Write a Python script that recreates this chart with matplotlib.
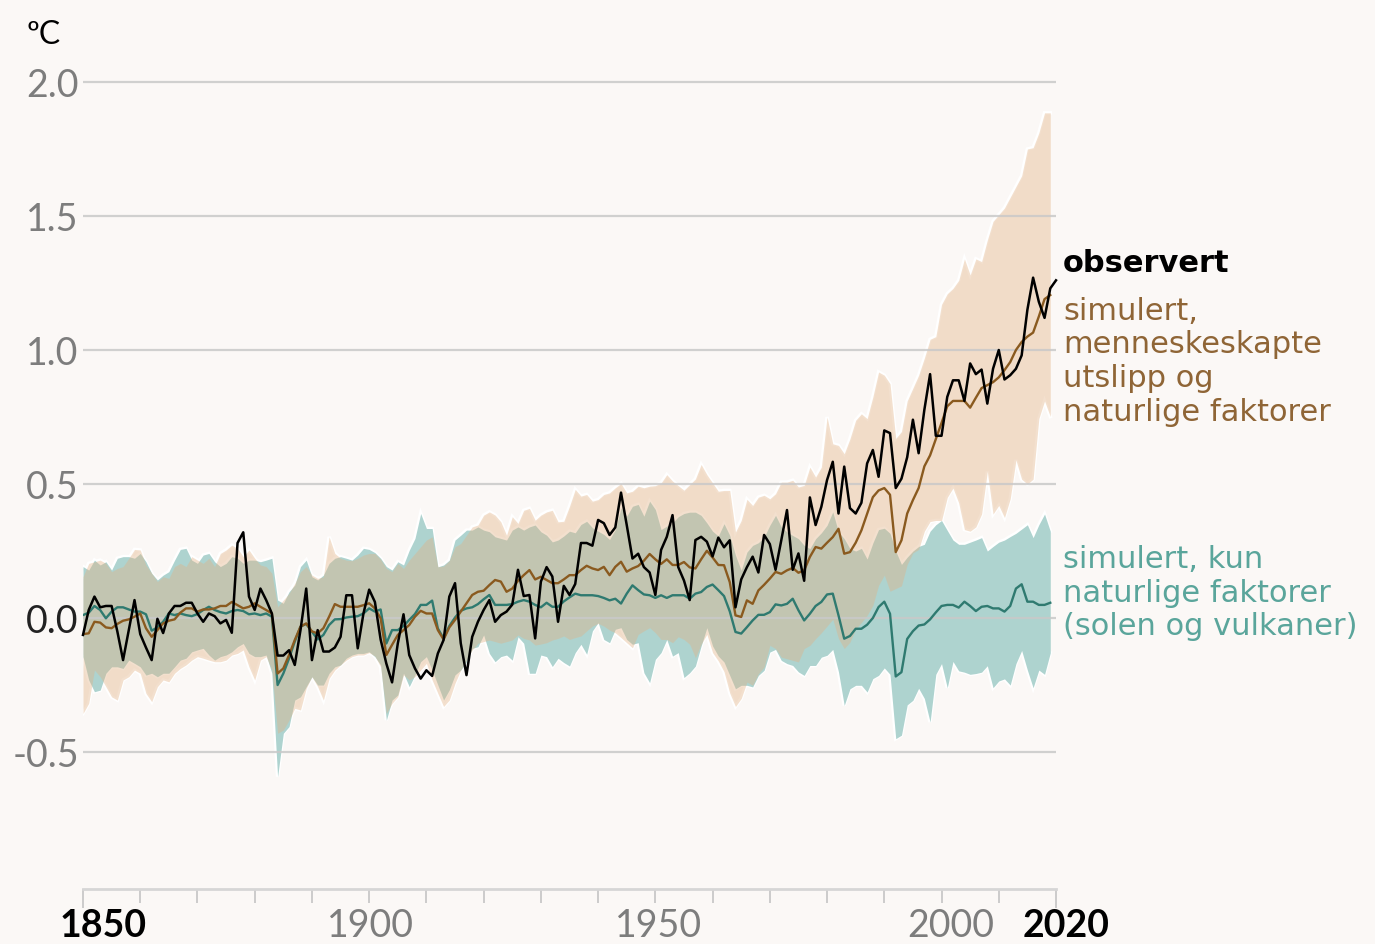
import numpy as np
import matplotlib
matplotlib.use("Agg")
import matplotlib.pyplot as plt

plt.rcParams['font.family'] = ['Lato', 'DejaVu Sans']

# observert, 1850-2020
obs = [-0.063, 0.03, 0.08, 0.04, 0.045, 0.045, -0.05, -0.157, -0.045, 0.067,
       -0.06, -0.11, -0.157, -0.003, -0.056, 0.017, 0.045, 0.045, 0.057, 0.057,
       0.017, -0.014, 0.017, 0.007, -0.02, -0.007, -0.055, 0.28, 0.32, 0.08,
       0.03, 0.11, 0.067, 0.017, -0.14, -0.14, -0.12, -0.175, -0.045, 0.11,
       -0.157, -0.045, -0.125, -0.125, -0.11, -0.07, 0.085, 0.085, -0.113, 0.017,
       0.106, 0.06, -0.08, -0.17, -0.24, -0.095, 0.014, -0.138, -0.188, -0.226,
       -0.195, -0.216, -0.132, -0.082, 0.08, 0.13, -0.094, -0.213, -0.07, -0.014,
       0.03, 0.067, -0.014, 0.011, 0.024, 0.05, 0.18, 0.082, 0.086, -0.076,
       0.136, 0.19, 0.155, -0.014, 0.12, 0.086, 0.127, 0.28, 0.28, 0.27,
       0.366, 0.354, 0.31, 0.338, 0.468, 0.347, 0.222, 0.24, 0.19, 0.17,
       0.086, 0.254, 0.303, 0.384, 0.19, 0.14, 0.067, 0.291, 0.303, 0.285,
       0.23, 0.3, 0.264, 0.29, 0.04, 0.144, 0.19, 0.229, 0.17, 0.31,
       0.276, 0.18, 0.29, 0.403, 0.18, 0.241, 0.139, 0.45, 0.347, 0.415,
       0.515, 0.583, 0.39, 0.565, 0.41, 0.39, 0.43, 0.577, 0.627, 0.527,
       0.70, 0.69, 0.485, 0.52, 0.6, 0.74, 0.615, 0.777, 0.91, 0.68,
       0.68, 0.825, 0.887, 0.887, 0.81, 0.95, 0.91, 0.927, 0.8, 0.93,
       1.0, 0.89, 0.906, 0.93, 0.98, 1.15, 1.27, 1.18, 1.12, 1.23,
       1.26]

# simulert, menneskeskapte + naturlige, 1850-2019
hum = [-0.06, -0.057, -0.014, -0.017, -0.035, -0.038, -0.022, -0.01, -0.005, 0.005,
       0.017, -0.038, -0.07, -0.045, -0.02, -0.01, -0.005, 0.02, 0.036, 0.036,
       0.024, 0.032, 0.032, 0.036, 0.045, 0.045, 0.06, 0.048, 0.036, 0.042,
       0.055, 0.042, 0.03, 0.017, -0.207, -0.188, -0.138, -0.082, -0.032, -0.02,
       -0.05, -0.057, -0.038, 0.005, 0.052, 0.042, 0.042, 0.042, 0.042, 0.048,
       0.055, 0.036, -0.001, -0.138, -0.1, -0.063, -0.045, -0.026, 0.005, 0.027,
       0.017, 0.017, -0.045, -0.08, -0.035, -0.007, 0.024, 0.055, 0.086, 0.098,
       0.102, 0.123, 0.142, 0.136, 0.098, 0.11, 0.139, 0.16, 0.179, 0.144,
       0.154, 0.142, 0.13, 0.13, 0.144, 0.16, 0.16, 0.179, 0.195, 0.185,
       0.179, 0.191, 0.16, 0.191, 0.21, 0.173, 0.185, 0.194, 0.214, 0.239,
       0.219, 0.202, 0.219, 0.198, 0.198, 0.209, 0.189, 0.185, 0.219, 0.251,
       0.226, 0.198, 0.197, 0.134, 0.01, 0.004, 0.066, 0.053, 0.103, 0.124,
       0.147, 0.172, 0.165, 0.178, 0.187, 0.169, 0.178, 0.228, 0.265, 0.259,
       0.281, 0.302, 0.333, 0.24, 0.246, 0.281, 0.327, 0.389, 0.451, 0.476,
       0.485, 0.46, 0.246, 0.29, 0.39, 0.44, 0.485, 0.566, 0.607, 0.667,
       0.728, 0.79, 0.81, 0.81, 0.81, 0.785, 0.822, 0.858, 0.869, 0.88,
       0.898, 0.925, 0.955, 1.0, 1.03, 1.05, 1.065, 1.125, 1.19, 1.205]

hum_hi = [0.154, 0.204, 0.21, 0.216, 0.204, 0.173, 0.185, 0.192, 0.223, 0.256,
          0.254, 0.198, 0.167, 0.136, 0.154, 0.148, 0.192, 0.204, 0.192, 0.229,
          0.216, 0.204, 0.223, 0.192, 0.241, 0.254, 0.272, 0.26, 0.229, 0.254,
          0.223, 0.198, 0.192, 0.167, 0.042, 0.067, 0.092, 0.129, 0.173, 0.192,
          0.16, 0.148, 0.154, 0.303, 0.241, 0.223, 0.216, 0.214, 0.223, 0.235,
          0.241, 0.241, 0.219, 0.185, 0.173, 0.204, 0.185, 0.216, 0.241, 0.266,
          0.291, 0.303, 0.191, 0.194, 0.214, 0.266, 0.278, 0.309, 0.34, 0.347,
          0.384, 0.396, 0.384, 0.359, 0.309, 0.378, 0.353, 0.402, 0.409, 0.365,
          0.384, 0.396, 0.402, 0.359, 0.361, 0.417, 0.48, 0.455, 0.461, 0.436,
          0.442, 0.461, 0.467, 0.486, 0.502, 0.467, 0.473, 0.492, 0.486, 0.492,
          0.494, 0.504, 0.535, 0.511, 0.494, 0.477, 0.498, 0.519, 0.573, 0.535,
          0.504, 0.473, 0.476, 0.476, 0.321, 0.364, 0.443, 0.42, 0.451, 0.458,
          0.445, 0.464, 0.507, 0.507, 0.514, 0.489, 0.495, 0.563, 0.526, 0.563,
          0.75, 0.65, 0.644, 0.613, 0.669, 0.738, 0.762, 0.744, 0.825, 0.918,
          0.906, 0.874, 0.67, 0.696, 0.81, 0.858, 0.906, 0.97, 1.04, 1.05,
          1.17, 1.21, 1.23, 1.26, 1.34, 1.28, 1.34, 1.33, 1.41, 1.48,
          1.505, 1.53, 1.57, 1.61, 1.65, 1.75, 1.755, 1.81, 1.885, 1.885]

hum_lo = [-0.356, -0.318, -0.194, -0.219, -0.256, -0.294, -0.306, -0.231, -0.219, -0.194,
          -0.206, -0.281, -0.312, -0.256, -0.231, -0.238, -0.206, -0.188, -0.175, -0.157,
          -0.144, -0.15, -0.157, -0.163, -0.163, -0.157, -0.138, -0.132, -0.119, -0.182,
          -0.231, -0.157, -0.144, -0.194, -0.43, -0.418, -0.381, -0.337, -0.343, -0.262,
          -0.219, -0.256, -0.306, -0.225, -0.194, -0.175, -0.157, -0.144, -0.138, -0.138,
          -0.129, -0.142, -0.182, -0.356, -0.318, -0.294, -0.212, -0.231, -0.219, -0.194,
          -0.169, -0.231, -0.281, -0.33, -0.306, -0.243, -0.194, -0.157, -0.119, -0.094,
          -0.088, -0.082, -0.088, -0.094, -0.088, -0.082, -0.063, -0.076, -0.082, -0.101,
          -0.097, -0.092, -0.082, -0.076, -0.067, -0.08, -0.073, -0.067, -0.048, -0.03,
          -0.02, -0.03, -0.045, -0.055, -0.073, -0.092, -0.111, -0.061, -0.048, -0.036,
          -0.055, -0.08, -0.08, -0.092, -0.07, -0.08, -0.098, -0.148, -0.098, -0.061,
          -0.129, -0.16, -0.2, -0.28, -0.33, -0.3, -0.239, -0.251, -0.208, -0.183,
          -0.102, -0.114, -0.146, -0.152, -0.158, -0.164, -0.114, -0.102, -0.077, -0.055,
          -0.03, -0.005, -0.077, -0.114, -0.09, -0.04, -0.017, 0.01, 0.047, 0.122,
          0.16, 0.10, 0.11, 0.12, 0.2, 0.243, 0.256, 0.324, 0.36, 0.364,
          0.364, 0.45, 0.485, 0.43, 0.33, 0.324, 0.34, 0.388, 0.547, 0.388,
          0.42, 0.375, 0.445, 0.59, 0.518, 0.5, 0.518, 0.744, 0.81, 0.752]

# simulert, kun naturlige faktorer, 1850-2019
nat = [0.011, 0.02, 0.045, 0.03, -0.001, 0.024, 0.04, 0.04, 0.032, 0.024,
       0.024, 0.014, -0.047, -0.035, -0.014, 0.017, 0.011, 0.017, 0.011, 0.007,
       0.015, 0.03, 0.042, 0.03, 0.022, 0.017, 0.026, 0.03, 0.026, 0.014,
       0.017, 0.011, 0.017, 0.005, -0.25, -0.207, -0.151, -0.088, -0.032, -0.022,
       -0.051, -0.08, -0.063, -0.026, -0.005, -0.004, 0.002, 0.005, 0.007, 0.017,
       0.036, 0.024, 0.032, -0.095, -0.045, -0.045, -0.03, -0.007, 0.015, 0.049,
       0.049, 0.065, -0.039, -0.076, -0.03, 0.002, 0.027, 0.036, 0.04, 0.052,
       0.07, 0.086, 0.049, 0.049, 0.049, 0.052, 0.061, 0.067, 0.061, 0.049,
       0.04, 0.057, 0.042, 0.042, 0.062, 0.077, 0.091, 0.085, 0.085, 0.085,
       0.082, 0.075, 0.066, 0.072, 0.054, 0.091, 0.122, 0.104, 0.088, 0.085,
       0.075, 0.085, 0.075, 0.085, 0.085, 0.085, 0.072, 0.091, 0.097, 0.116,
       0.125, 0.104, 0.082, 0.025, -0.052, -0.058, -0.034, -0.009, 0.012, 0.012,
       0.022, 0.051, 0.047, 0.053, 0.072, 0.029, -0.009, 0.016, 0.045, 0.06,
       0.088, 0.091, 0.01, -0.077, -0.067, -0.04, -0.04, -0.025, 0.0, 0.041,
       0.061, 0.016, -0.218, -0.202, -0.078, -0.049, -0.028, -0.024, -0.005, 0.021,
       0.045, 0.049, 0.049, 0.039, 0.061, 0.045, 0.026, 0.042, 0.045, 0.036,
       0.036, 0.024, 0.045, 0.11, 0.126, 0.061, 0.061, 0.049, 0.049, 0.057]

nat_hi = [0.192, 0.179, 0.216, 0.198, 0.21, 0.179, 0.223, 0.229, 0.229, 0.223,
          0.241, 0.21, 0.167, 0.142, 0.16, 0.173, 0.216, 0.256, 0.26, 0.216,
          0.204, 0.235, 0.241, 0.21, 0.192, 0.204, 0.229, 0.223, 0.204, 0.216,
          0.216, 0.21, 0.216, 0.223, 0.067, 0.055, 0.098, 0.123, 0.192, 0.216,
          0.154, 0.142, 0.16, 0.204, 0.223, 0.229, 0.223, 0.216, 0.235, 0.26,
          0.256, 0.244, 0.223, 0.192, 0.179, 0.21, 0.198, 0.253, 0.297, 0.39,
          0.334, 0.334, 0.191, 0.198, 0.216, 0.291, 0.309, 0.328, 0.328, 0.34,
          0.328, 0.322, 0.303, 0.297, 0.291, 0.328, 0.34, 0.328, 0.34, 0.347,
          0.322, 0.309, 0.284, 0.291, 0.306, 0.324, 0.318, 0.349, 0.361, 0.337,
          0.324, 0.312, 0.293, 0.33, 0.411, 0.38, 0.417, 0.424, 0.38, 0.436,
          0.405, 0.33, 0.343, 0.355, 0.378, 0.39, 0.395, 0.395, 0.383, 0.355,
          0.324, 0.306, 0.352, 0.308, 0.234, 0.178, 0.246, 0.271, 0.281, 0.302,
          0.346, 0.383, 0.34, 0.321, 0.308, 0.296, 0.271, 0.259, 0.296, 0.318,
          0.346, 0.396, 0.321, 0.296, 0.259, 0.25, 0.26, 0.22, 0.28, 0.33,
          0.335, 0.316, 0.25, 0.2, 0.227, 0.25, 0.267, 0.275, 0.324, 0.348,
          0.364, 0.327, 0.291, 0.275, 0.275, 0.283, 0.291, 0.3, 0.25, 0.267,
          0.283, 0.291, 0.304, 0.316, 0.332, 0.348, 0.3, 0.348, 0.388, 0.324]

nat_lo = [-0.144, -0.231, -0.275, -0.269, -0.206, -0.182, -0.182, -0.188, -0.157, -0.169,
          -0.182, -0.213, -0.206, -0.219, -0.206, -0.206, -0.182, -0.157, -0.15, -0.126,
          -0.119, -0.113, -0.138, -0.157, -0.144, -0.138, -0.126, -0.107, -0.095, -0.132,
          -0.144, -0.144, -0.138, -0.206, -0.592, -0.43, -0.405, -0.306, -0.294, -0.256,
          -0.219, -0.25, -0.25, -0.206, -0.182, -0.175, -0.15, -0.138, -0.132, -0.132,
          -0.126, -0.144, -0.175, -0.381, -0.306, -0.287, -0.206, -0.256, -0.212, -0.163,
          -0.144, -0.194, -0.25, -0.306, -0.268, -0.212, -0.194, -0.163, -0.113, -0.107,
          -0.063, -0.132, -0.163, -0.144, -0.138, -0.157, -0.07, -0.094, -0.206, -0.206,
          -0.138, -0.144, -0.181, -0.15, -0.166, -0.179, -0.129, -0.098, -0.135, -0.048,
          -0.017, -0.08, -0.092, -0.042, -0.036, -0.08, -0.098, -0.092, -0.204, -0.241,
          -0.154, -0.129, -0.08, -0.142, -0.129, -0.222, -0.204, -0.179, -0.104, -0.036,
          -0.104, -0.142, -0.164, -0.214, -0.264, -0.251, -0.251, -0.257, -0.214, -0.195,
          -0.127, -0.117, -0.158, -0.17, -0.177, -0.201, -0.214, -0.177, -0.177, -0.146,
          -0.139, -0.117, -0.201, -0.326, -0.264, -0.251, -0.251, -0.276, -0.226, -0.214,
          -0.186, -0.21, -0.45, -0.437, -0.324, -0.307, -0.262, -0.3, -0.388, -0.21,
          -0.17, -0.26, -0.162, -0.197, -0.202, -0.21, -0.207, -0.202, -0.178, -0.26,
          -0.235, -0.227, -0.25, -0.17, -0.121, -0.194, -0.26, -0.194, -0.21, -0.13]

years_obs = np.arange(1850, 1850 + len(obs))
years_sim = np.arange(1850, 1850 + len(hum))

yticks = [-0.5, 0.0, 0.5, 1.0, 1.5, 2.0]
ytick_labels = ['-0.5', '0.0', '0.5', '1.0', '1.5', '2.0']
xticks = list(range(1850, 2021, 10))
xlabels = {1850: '1850', 1900: '1900', 1950: '1950', 2000: '2000', 2020: '2020'}

W, H = 1375, 944
bg = '#fbf8f6'
fig = plt.figure(figsize=(W / 100, H / 100), dpi=100, facecolor=bg)
ax = fig.add_axes([83 / W, 1 - 889 / H, (1056 - 83) / W, (889 - 28.4) / H])
ax.set_facecolor(bg)
ax.set_xlim(1850, 2020)
ax.set_ylim(-1.011, 2.2)

# white outline under the bands
for s in (nat_hi, nat_lo, hum_hi, hum_lo):
    ax.plot(years_sim, s, color='white', lw=2.6, zorder=0.5, solid_joinstyle='miter')
ax.fill_between(years_sim, nat_lo, nat_hi, color='#aed3cf', lw=0, zorder=1)
ax.fill_between(years_sim, hum_lo, hum_hi, color='#e2b285', alpha=0.4, lw=0, zorder=2)

for y in yticks:
    ax.axhline(y, color='#c9c9c9', lw=1.6, alpha=0.85, zorder=3)

ax.plot(years_sim, nat, color='#2f7a70', lw=1.7, zorder=4)
ax.plot(years_sim, hum, color='#8a5a1f', lw=1.7, zorder=5)
ax.plot(years_obs, obs, color='black', lw=1.8, zorder=6, clip_on=False)

for sp in ('top', 'right', 'left'):
    ax.spines[sp].set_visible(False)
ax.spines['bottom'].set_color('#d6d6d6')
ax.spines['bottom'].set_linewidth(2)

ax.set_yticks(yticks)
ax.set_yticklabels(ytick_labels, fontsize=27, color='#7d7d7d', fontweight='normal')
ax.tick_params(axis='y', length=0, pad=3)
ax.get_yticklabels()[1].set_color('#222222')

ax.set_xticks(xticks)
ax.set_xticklabels([])
ax.tick_params(axis='x', length=10, width=1.2, color='#c4c4c4', direction='out')
for t, yr in zip(ax.xaxis.get_major_ticks(), xticks):
    if yr in (1850, 2020):
        t.tick1line.set_color('black')
        t.tick1line.set_markersize(14)

shift = {1850: 3.5, 1900: 0.3, 1950: 0.5, 2000: 1.6, 2020: 1.8}
for yr, lab in xlabels.items():
    bold = yr in (1850, 2020)
    ax.text(yr + shift[yr], -1.011 - 48 / 268, lab, ha='center', va='baseline',
            fontsize=27, color='black' if bold else '#7d7d7d',
            fontweight='bold' if bold else 'normal', clip_on=False)

fig.text(27 / W, 1 - 44 / H, 'ºC', fontsize=23, color='black', va='baseline')

def label(txt, py, color, weight='normal'):
    fig.text(1063 / W, 1 - py / H, txt, fontsize=22, color=color, fontweight=weight,
             va='baseline', family=['DejaVu Sans'])

label('observert', 272, 'black', 'bold')
brown = '#8f6536'
for txt, py in [('simulert,', 320), ('menneskeskapte', 353), ('utslipp og', 387), ('naturlige faktorer', 421)]:
    label(txt, py, brown)
teal = '#5aa59b'
for txt, py in [('simulert, kun', 568), ('naturlige faktorer', 602), ('(solen og vulkaner)', 635)]:
    label(txt, py, teal)

fig.savefig('out.png', dpi=100, facecolor=bg)
